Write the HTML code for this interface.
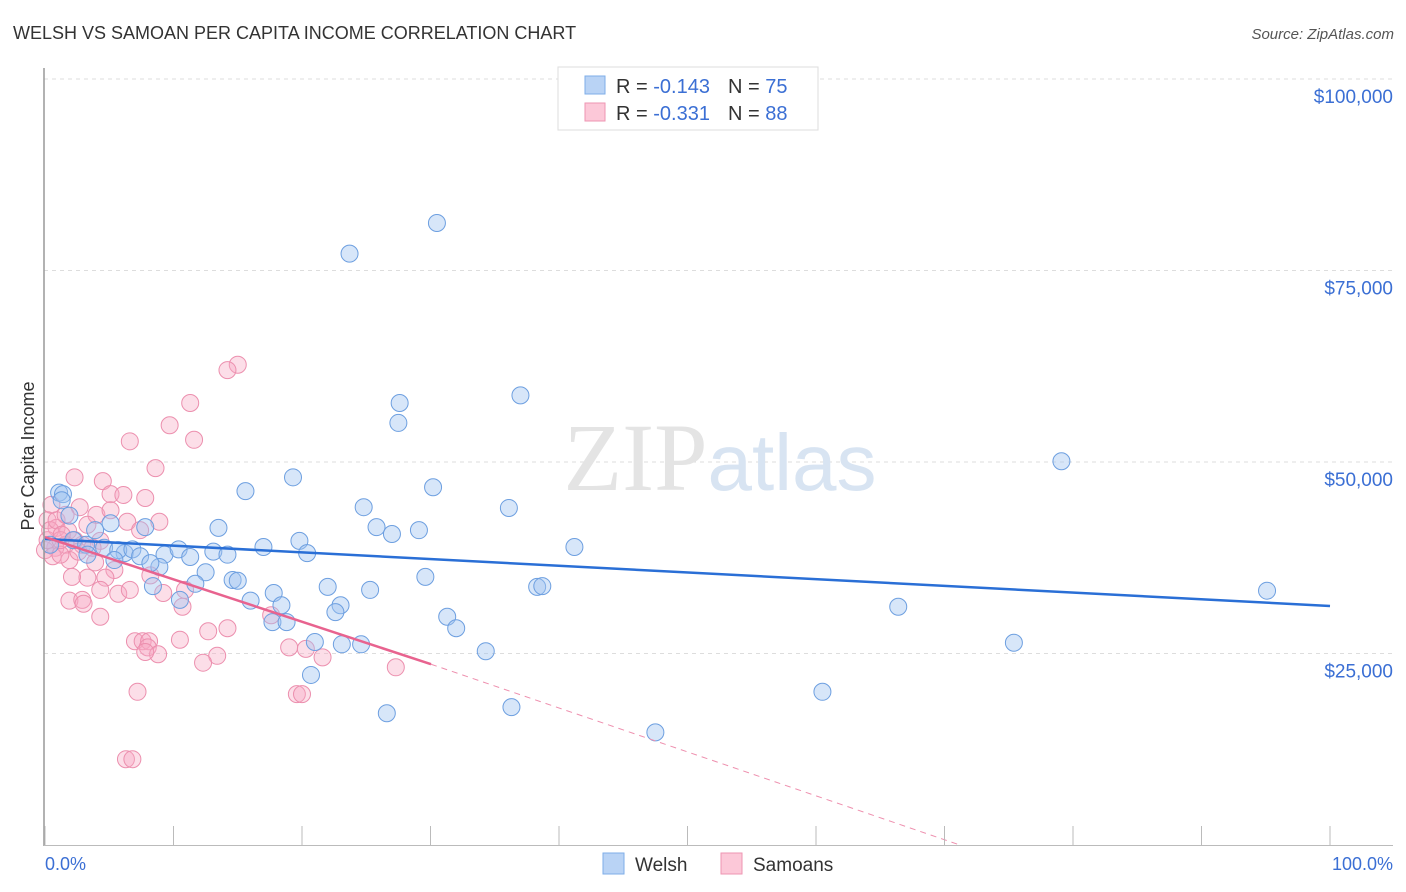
<!DOCTYPE html>
<html><head><meta charset="utf-8"><style>
body{margin:0;background:#fff;font-family:"Liberation Sans",sans-serif}
svg{display:block}
</style></head><body>
<svg id="chart" width="1406" height="892" xmlns="http://www.w3.org/2000/svg">
<text x="13" y="39" font-size="18" fill="#333">WELSH VS SAMOAN PER CAPITA INCOME CORRELATION CHART</text>
<text x="1394" y="39" font-size="15" fill="#555" text-anchor="end" font-style="italic">Source: ZipAtlas.com</text>
<g id="grid"></g>
<text x="720" y="490" font-size="96" text-anchor="middle" fill="#e4e4e4" font-family="Liberation Serif">ZIP<tspan fill="#d8e4f2" font-family="Liberation Sans" font-size="80">atlas</tspan></text>
<g id="pts"></g>
<g id="lines"></g>
<line x1="44" y1="68" x2="44" y2="846" stroke="#999" stroke-width="1.5"/>
<line x1="44" y1="845.5" x2="1393" y2="845.5" stroke="#bbb" stroke-width="1"/>
<g id="ticks"></g>
<text transform="translate(34,456) rotate(-90)" font-size="18" fill="#333" text-anchor="middle">Per Capita Income</text>
<text x="45" y="870" font-size="18" fill="#3b6fd4">0.0%</text>
<text x="1393" y="870" font-size="18" fill="#3b6fd4" text-anchor="end">100.0%</text>
<g>
<rect x="558" y="67" width="260" height="63" fill="#fff" stroke="#ddd"/>
<rect x="585" y="76" width="20" height="18" fill="#b9d3f5" stroke="#7eaee8"/>
<rect x="585" y="103" width="20" height="18" fill="#fcc8d8" stroke="#ee95b2"/>
<text x="616" y="93" font-size="20" fill="#333">R = <tspan fill="#3b6fd4">-0.143</tspan><tspan dx="18">N = </tspan><tspan fill="#3b6fd4">75</tspan></text>
<text x="616" y="120" font-size="20" fill="#333">R = <tspan fill="#3b6fd4">-0.331</tspan><tspan dx="18">N = </tspan><tspan fill="#3b6fd4">88</tspan></text>
</g>
<g>
<rect x="603" y="853" width="21" height="21" fill="#b9d3f5" stroke="#7eaee8"/>
<text x="635" y="871" font-size="19" fill="#333">Welsh</text>
<rect x="721" y="853" width="21" height="21" fill="#fcc8d8" stroke="#ee95b2"/>
<text x="753" y="871" font-size="19" fill="#333">Samoans</text>
</g>
</svg>
<script>
const yTicks=[25000,50000,75000,100000];
const yTickLabels=["$25,000","$50,000","$75,000","$100,000"];
const xTicks=[0,10,20,30,40,50,60,70,80,90,100];
const welshX=[23.7,30.5,37.0,27.6,27.5,79.1,19.3,30.2,15.6,24.8,36.1,1.1,1.4,1.9,5.1,7.8,13.5,25.8,29.1,27.0,2.2,3.2,4.6,6.2,5.7,6.8,7.4,9.3,10.4,11.3,13.1,14.2,17.0,19.8,20.4,41.2,8.9,12.5,14.6,15.0,29.6,25.3,22.0,17.8,23.0,38.3,38.7,8.4,11.7,16.0,18.4,22.6,31.3,32.0,66.4,95.1,17.7,18.8,21.0,23.1,24.6,34.3,75.4,20.7,60.5,26.6,36.3,47.5,1.3,3.9,3.3,0.4,5.4,10.5,8.2];
const welshY=[77.2,81.2,58.7,57.7,55.1,50.1,48.0,46.7,46.2,44.1,44.0,46.0,45.8,43.0,42.0,41.5,41.4,41.5,41.1,40.6,39.8,39.2,38.8,38.1,38.5,38.6,37.7,37.9,38.6,37.6,38.3,37.9,38.9,39.7,38.1,38.9,36.3,35.6,34.6,34.5,35.0,33.3,33.7,32.9,31.3,33.7,33.8,33.8,34.1,31.9,31.3,30.4,29.8,28.3,31.1,33.2,29.1,29.1,26.5,26.2,26.2,25.3,26.4,22.2,20.0,17.2,18.0,14.7,45.0,41.1,37.9,39.2,37.2,32.0,36.8];
const samoanX=[15.0,14.2,11.3,9.7,11.6,6.6,8.6,2.3,4.5,5.1,6.1,7.8,2.7,0.5,4.0,8.9,0.2,0.9,1.8,6.4,2.9,4.3,1.6,0.8,0.0,0.6,1.9,3.9,1.2,0.2,5.4,3.3,4.7,8.2,2.1,4.3,5.7,6.6,9.2,10.9,1.9,2.9,3.0,10.7,4.3,12.7,14.2,7.0,7.6,8.1,8.0,8.8,7.8,10.5,13.4,12.3,17.6,19.0,20.3,21.6,27.3,7.2,19.6,20.0,6.3,6.8,0.4,1.2,2.3,3.7,5.1,7.4,3.3,0.9,1.6,1.3,2.6];
const samoanY=[62.7,62.0,57.7,54.8,52.9,52.7,49.2,48.0,47.5,45.8,45.7,45.3,44.1,44.4,43.1,42.2,42.4,41.4,41.0,42.2,39.2,39.7,39.2,38.8,38.5,37.7,37.2,36.9,37.9,39.8,35.9,34.9,34.9,35.2,35.0,33.3,32.8,33.3,32.9,33.3,31.9,32.0,31.5,31.1,29.8,27.9,28.3,26.6,26.6,26.6,25.8,24.9,25.2,26.8,24.7,23.8,30.0,25.8,25.6,24.5,23.2,20.0,19.7,19.7,11.2,11.2,41.1,39.8,39.8,38.8,43.7,41.1,41.8,42.4,43.1,40.5,38.3];
const welshTrendX=[0,100], welshTrendY=[39.95,31.2];
const samoanTrendX=[0,30.04], samoanTrendY=[40.2,23.6];
const samoanDashX=[30.04,71.2], samoanDashY=[23.6,0];
const NS="http://www.w3.org/2000/svg";
const xs=v=>45+v*12.85;
const ys=v=>845-v/25*191.5; // v in thousands
function mk(tag,attrs,parent){const e=document.createElementNS(NS,tag);for(const k in attrs)e.setAttribute(k,attrs[k]);parent.appendChild(e);return e;}
const grid=document.getElementById('grid'),ticks=document.getElementById('ticks');
mk('line',{x1:44,y1:79,x2:1393,y2:79,stroke:'#ddd','stroke-dasharray':'4,4'},grid);
yTicks.forEach((t,i)=>{const y=ys(t/1000);
const l=mk('line',{x1:44,y1:y,x2:1393,y2:y,stroke:'#ddd','stroke-dasharray':'4,4'},grid);


const tx=mk('text',{x:1393,y:y+24,'font-size':19,fill:'#3b6fd4','text-anchor':'end'},ticks);
tx.textContent=yTickLabels[i];

});
xTicks.forEach(t=>{const x=xs(t);const l=mk('line',{x1:x,y1:826,x2:x,y2:846,stroke:'#bbb'},ticks);

});
const pts=document.getElementById('pts');
samoanX.forEach((v,i)=>{const c=mk('circle',{cx:xs(v),cy:ys(samoanY[i]),r:8.5,fill:'rgba(246,168,194,0.38)',stroke:'#ec8fae','stroke-width':1},pts);

});
welshX.forEach((v,i)=>{const c=mk('circle',{cx:xs(v),cy:ys(welshY[i]),r:8.5,fill:'rgba(160,196,240,0.42)',stroke:'#6d9fe0','stroke-width':1},pts);

});
const lines=document.getElementById('lines');
const bl=mk('line',{x1:xs(welshTrendX[0]),y1:ys(welshTrendY[0]),x2:xs(welshTrendX[1]),y2:ys(welshTrendY[1]),stroke:'#2a6fd6','stroke-width':2.5},lines);


const pl=mk('line',{x1:xs(samoanTrendX[0]),y1:ys(samoanTrendY[0]),x2:xs(samoanTrendX[1]),y2:ys(samoanTrendY[1]),stroke:'#e8638f','stroke-width':2.5},lines);


const pd=mk('line',{x1:xs(samoanDashX[0]),y1:ys(samoanDashY[0]),x2:xs(samoanDashX[1]),y2:ys(samoanDashY[1]),stroke:'#ee8fae','stroke-width':1,'stroke-dasharray':'6,5'},lines);


</script>
</body></html>
